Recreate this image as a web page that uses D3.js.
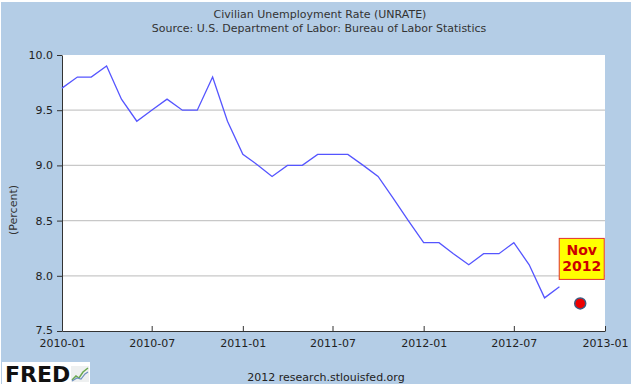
<!DOCTYPE html>
<html>
<head>
<meta charset="utf-8">
<script src="https://cdn.jsdelivr.net/npm/d3@7"></script>
<style>
  body { margin: 0; background: #fff; }
  text { font-family: "DejaVu Sans", sans-serif; }
</style>
</head>
<body>
<div id="chart"></div>
<script>
// monthly unemployment rate, 2010-01 .. 2012-10
var months = [];
for (var m = 0; m < 34; m++) months.push(new Date(2010, m, 1));
var rates = [9.7, 9.8, 9.8, 9.9, 9.6, 9.4, 9.5, 9.6, 9.5, 9.5, 9.8, 9.4,
             9.1, 9.0, 8.9, 9.0, 9.0, 9.1, 9.1, 9.1, 9.0, 8.9, 8.7, 8.5,
             8.3, 8.3, 8.2, 8.1, 8.2, 8.2, 8.3, 8.1, 7.8, 7.9];
// the Nov 2012 point, drawn as a red dot
var novDate = new Date(2012, 10, 12);
var novRate = 7.75;
var novLabel = ["Nov", "2012"];

var yTicks = [7.5, 8.0, 8.5, 9.0, 9.5, 10.0];
var xTicks = ["2010-01", "2010-07", "2011-01", "2011-07", "2012-01", "2012-07", "2013-01"];

var W = 634, H = 387;
var margin = {top: 55, right: 29, bottom: 56, left: 62},
    width = W - margin.left - margin.right,
    height = H - margin.top - margin.bottom;

var svg = d3.select("#chart").append("svg")
  .attr("width", W)
  .attr("height", H);

// blue panel
svg.append("rect")
  .attr("x", 1).attr("y", 2)
  .attr("width", W - 4).attr("height", H - 5)
  .attr("fill", "#b4cde6");

svg.append("text")
  .attr("x", 320).attr("y", 18)
  .attr("text-anchor", "middle")
  .attr("font-size", "11px").attr("fill", "#333")
  .text("Civilian Unemployment Rate (UNRATE)");
svg.append("text")
  .attr("x", 319).attr("y", 32)
  .attr("text-anchor", "middle")
  .attr("font-size", "11px").attr("fill", "#333")
  .text("Source: U.S. Department of Labor: Bureau of Labor Statistics");

var g = svg.append("g")
  .attr("transform", "translate(" + margin.left + "," + margin.top + ")");

var parse = d3.timeParse("%Y-%m");
var x = d3.scaleTime()
  .domain([parse(xTicks[0]), parse(xTicks[xTicks.length - 1])])
  .range([0, width]);
var y = d3.scaleLinear()
  .domain([7.5, 10.0])
  .range([height, 0]);

g.append("rect")
  .attr("width", width).attr("height", height)
  .attr("fill", "#fff");

// gridlines
g.selectAll(".grid")
  .data(yTicks.slice(1, -1))
  .enter().append("line")
  .attr("x1", 0).attr("x2", width)
  .attr("y1", function(d) { return y(d); })
  .attr("y2", function(d) { return y(d); })
  .attr("stroke", "#c8c8c8").attr("stroke-width", 1.2);

// y axis
var yAxis = g.append("g")
  .call(d3.axisLeft(y).tickValues(yTicks).tickFormat(d3.format(".1f")).tickSize(5).tickSizeOuter(0));
yAxis.select(".domain").attr("stroke", "#333");
yAxis.selectAll("line").attr("stroke", "#333");
yAxis.selectAll("text")
  .attr("font-size", "11px").attr("fill", "#222")
  .attr("font-family", "DejaVu Sans").attr("dx", "-1")
  .attr("dy", function(d) { return d === 7.5 ? "0.2em" : "0.32em"; });

// x axis, ticks pointing up into the plot
var xAxis = g.append("g")
  .attr("transform", "translate(0," + height + ")")
  .call(d3.axisBottom(x).tickValues(xTicks.map(parse)).tickFormat(d3.timeFormat("%Y-%m")).tickSize(-5).tickSizeOuter(0));
xAxis.select(".domain").attr("stroke", "#333");
xAxis.selectAll("line").attr("stroke", "#333");
xAxis.selectAll("text")
  .attr("font-size", "11px").attr("fill", "#222")
  .attr("font-family", "DejaVu Sans").attr("y", 8);

svg.append("text")
  .attr("transform", "translate(17,210) rotate(-90)")
  .attr("text-anchor", "middle")
  .attr("font-size", "11px").attr("fill", "#333")
  .text("(Percent)");

// the series line
var line = d3.line()
  .x(function(d, i) { return x(months[i]); })
  .y(function(d) { return y(d); });
g.append("path")
  .datum(rates)
  .attr("d", line)
  .attr("fill", "none")
  .attr("stroke", "#5555ff")
  .attr("stroke-width", 1.3);

// red dot
g.append("circle")
  .attr("cx", x(novDate)).attr("cy", y(novRate))
  .attr("r", 5.5)
  .attr("fill", "#ee0000")
  .attr("stroke", "#3d5a80").attr("stroke-width", 1.5);

// label box
var bx = x(novDate), by = y(novRate) - 44;
g.append("rect")
  .attr("x", bx - 21).attr("y", by - 21)
  .attr("width", 45).attr("height", 41)
  .attr("fill", "#ffff00")
  .attr("stroke", "#e03030").attr("stroke-width", 1);
g.selectAll(".lbl")
  .data(novLabel)
  .enter().append("text")
  .attr("x", bx + 1.5)
  .attr("y", function(d, i) { return by - 4 + i * 16; })
  .attr("text-anchor", "middle")
  .attr("font-family", "Liberation Sans, Arial")
  .attr("font-weight", "bold")
  .attr("font-size", "14px")
  .attr("fill", "#cc0000")
  .text(function(d) { return d; });

// FRED footer
svg.append("rect")
  .attr("x", 2).attr("y", 362)
  .attr("width", 88).attr("height", 23)
  .attr("fill", "#fff");
svg.append("text")
  .attr("x", 5).attr("y", 382)
  .attr("font-family", "Liberation Sans, Arial")
  .attr("font-weight", "bold")
  .attr("font-size", "22px")
  .attr("fill", "#111")
  .text("FRED");
var icon = svg.append("g").attr("transform", "translate(71,366)");
icon.append("rect").attr("width", 18).attr("height", 16).attr("fill", "#eef0f0");
icon.append("path").attr("d", "M1,14 L5,10 L8,12 L12,6 L17,2")
  .attr("fill", "none").attr("stroke", "#6aa84f").attr("stroke-width", 1.5);
icon.append("path").attr("d", "M1,15 L6,12 L10,13 L14,8 L17,6")
  .attr("fill", "none").attr("stroke", "#6d8fbf").attr("stroke-width", 1.2);

svg.append("text")
  .attr("x", 326).attr("y", 381)
  .attr("text-anchor", "middle")
  .attr("font-size", "11px").attr("fill", "#222")
  .text("2012 research.stlouisfed.org");
</script>
</body>
</html>
